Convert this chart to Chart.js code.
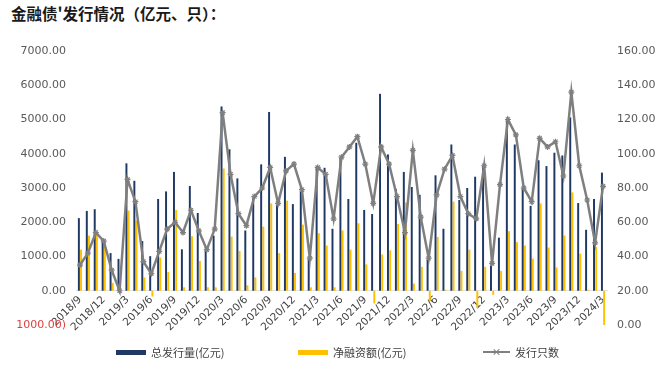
<!DOCTYPE html>
<html lang="zh-CN">
<head>
<meta charset="utf-8">
<script src="https://cdn.jsdelivr.net/npm/chart.js@4.4.1/dist/chart.umd.min.js"></script>
<style>
    html, body { margin: 0; padding: 0; background: #fff; }
    #quadro { position: relative; width: 664px; height: 368px; overflow: hidden; font-family: "Noto Sans CJK SC", "Noto Sans", sans-serif; }
    #titulo { position: absolute; left: 11px; top: 2px; font-size: 15.5px; font-weight: bold; color: #1a1a1a; white-space: nowrap; }
    #grafico { position: absolute; left: 0; top: 0; }
    .item-legenda { position: absolute; top: 344px; height: 16px; display: flex; align-items: center; font-size: 11px; color: #404040; white-space: nowrap; }
    .marcador { display: inline-block; margin-right: 5px; position: relative; }
    .cruz { position: absolute; left: 10px; top: -3px; width: 7px; height: 7px; }
    .cruz::before, .cruz::after { content: ''; position: absolute; left: 3px; top: 0; width: 1.3px; height: 8px; background: #7f7f7f; }
    .cruz::before { transform: rotate(45deg); }
    .cruz::after { transform: rotate(-45deg); }
</style>
</head>
<body>
<div id="quadro">
    <div id="titulo">金融债'发行情况（亿元、只）：</div>
    <canvas id="grafico" width="664" height="368"></canvas>
    <div class="item-legenda" style="left:116px"><span class="marcador" style="width:30px;height:5px;background:#1f3864"></span>总发行量(亿元)</div>
    <div class="item-legenda" style="left:298px"><span class="marcador" style="width:30px;height:5px;background:#ffc000"></span>净融资额(亿元)</div>
    <div class="item-legenda" style="left:483px"><span class="marcador" style="width:27px;height:2px;background:#7f7f7f"><span class="cruz"></span></span>发行只数</div>
</div>
<script>
const meses = [
    '2018/9', '2018/10', '2018/11', '2018/12',
    '2019/1', '2019/2', '2019/3', '2019/4', '2019/5', '2019/6', '2019/7', '2019/8', '2019/9', '2019/10', '2019/11', '2019/12',
    '2020/1', '2020/2', '2020/3', '2020/4', '2020/5', '2020/6', '2020/7', '2020/8', '2020/9', '2020/10', '2020/11', '2020/12',
    '2021/1', '2021/2', '2021/3', '2021/4', '2021/5', '2021/6', '2021/7', '2021/8', '2021/9', '2021/10', '2021/11', '2021/12',
    '2022/1', '2022/2', '2022/3', '2022/4', '2022/5', '2022/6', '2022/7', '2022/8', '2022/9', '2022/10', '2022/11', '2022/12',
    '2023/1', '2023/2', '2023/3', '2023/4', '2023/5', '2023/6', '2023/7', '2023/8', '2023/9', '2023/10', '2023/11', '2023/12',
    '2024/1', '2024/2', '2024/3'
];

// 总发行量(亿元)
const totalEmitido = [
    2120, 2330, 2380, 1490,
    1100, 930, 3720, 3210, 1450, 1010, 2680, 2900, 3470, 1210, 3060, 2270,
    1180, 1610, 5380, 4130, 3280, 1760, 2720, 3690, 5220, 2510, 3910, 2530,
    2890, 940, 3590, 3590, 1810, 3880, 2680, 4320, 2360, 2240, 5750, 3980,
    2970, 3470, 3030, 2800, 910, 3370, 1810, 4270, 2650, 3000, 3330, 3640,
    740, 1550, 4980, 4270, 3010, 2480, 3810, 3640, 4030, 3950, 5060, 2560,
    1780, 2680, 3450
];

// 净融资额(亿元)
const financiamentoLiquido = [
    1200, 1610, 1700, 1280,
    230, -50, 2340, 2050, 390, -170, 970, 550, 2360, 100, 1590, 870,
    100, 100, 3570, 1580, 1160, 160, 390, 1870, 2550, 1100, 2630, 520,
    1930, 100, 1680, 1320, 100, 1760, 1200, 1970, 770, -370, 1060, 1180,
    1950, 2580, 210, 700, -300, 1570, 30, 2600, 580, 1200, -500, 700,
    -120, 580, 1740, 1420, 1320, 940, 2550, 1260, 680, 1610, 2870, 1080,
    30, 1280, -1050
];

// 发行只数
const quantidadeEmissoes = [
    35, 42, 54, 49,
    32, 20, 85, 72, 37, 30, 43, 56, 60, 54, 67, 55,
    44, 56, 124, 88, 65, 58, 75, 80, 92, 71, 90, 94,
    79, 39, 92, 88, 62, 98, 104, 110, 94, 71, 104, 94,
    75, 54, 102, 63, 39, 76, 91, 99, 75, 65, 62, 93,
    36, 82, 120, 111, 80, 72, 109, 104, 107, 87, 136, 93,
    73, 48, 81
];

const fonteEixo = { family: 'DejaVu Sans', size: 11 };

function formatarValor(valor) {
    return valor < 0 ? '(' + Math.abs(valor).toFixed(2) + ')' : valor.toFixed(2);
}

new Chart(document.getElementById('grafico'), {
    type: 'bar',
    data: {
        labels: meses,
        datasets: [
            {
                type: 'line',
                label: '发行只数',
                data: quantidadeEmissoes,
                yAxisID: 'y1',
                borderColor: '#7f7f7f',
                borderWidth: 2.5,
                tension: 0,
                pointStyle: 'star',
                pointRadius: 3,
                pointBorderColor: '#7f7f7f',
                pointBackgroundColor: '#7f7f7f',
                pointBorderWidth: 1.2,
                order: 0
            },
            {
                label: '总发行量(亿元)',
                data: totalEmitido,
                yAxisID: 'y',
                backgroundColor: '#1f3864',
                categoryPercentage: 0.55,
                barPercentage: 0.9,
                order: 1
            },
            {
                label: '净融资额(亿元)',
                data: financiamentoLiquido,
                yAxisID: 'y',
                backgroundColor: '#ffc000',
                categoryPercentage: 0.55,
                barPercentage: 0.9,
                order: 1
            }
        ]
    },
    options: {
        responsive: false,
        animation: false,
        devicePixelRatio: 1,
        layout: { padding: { top: 51, bottom: 43, left: 16, right: 7 } },
        plugins: {
            legend: { display: false },
            tooltip: { enabled: false }
        },
        scales: {
            x: {
                position: { y: 0 },
                grid: { display: false, drawTicks: false },
                border: { display: true, color: '#e3e3e3' },
                ticks: {
                    autoSkip: false,
                    minRotation: 45,
                    maxRotation: 45,
                    padding: 3,
                    color: '#404040',
                    font: { family: 'DejaVu Sans', size: 10.5 },
                    callback: (valor, indice) => indice % 3 === 0 ? meses[indice] : ''
                },
                afterFit: escala => { escala.height = 0; }
            },
            y: {
                position: 'left',
                min: -1000,
                max: 7000,
                grid: { display: false, drawTicks: false },
                border: { display: false },
                ticks: {
                    stepSize: 1000,
                    padding: 10,
                    font: fonteEixo,
                    color: contexto => contexto.tick.value < 0 ? '#e0403c' : '#595959',
                    callback: formatarValor
                },
                afterFit: escala => { escala.width = 60; }
            },
            y1: {
                position: 'right',
                min: 0,
                max: 160,
                grid: { display: false, drawTicks: false },
                border: { display: false },
                ticks: {
                    stepSize: 20,
                    padding: 10,
                    font: fonteEixo,
                    color: '#595959',
                    callback: valor => valor.toFixed(2)
                },
                afterFit: escala => { escala.width = 50; }
            }
        }
    }
});
</script>
</body>
</html>
